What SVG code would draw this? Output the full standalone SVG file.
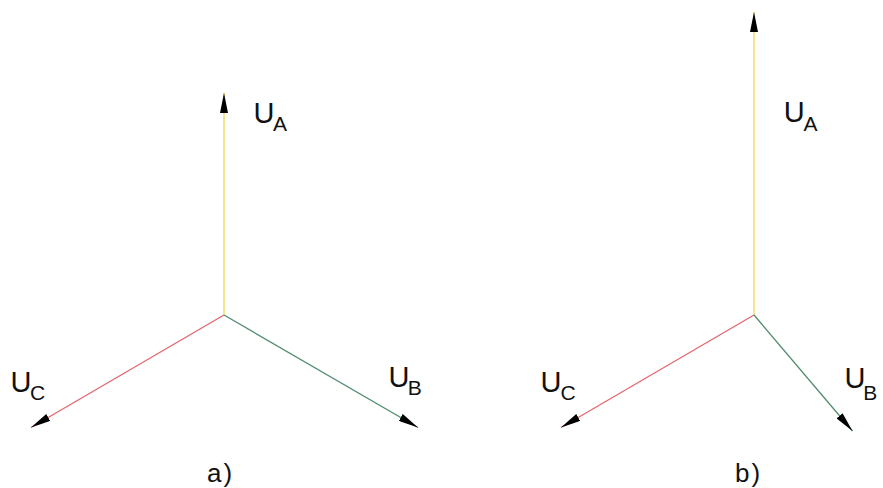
<svg xmlns="http://www.w3.org/2000/svg" width="883" height="488" viewBox="0 0 883 488">
  <style>
    text { font-family: "Liberation Sans", Arial, sans-serif; fill: #111; }
    .main { font-size: 29px; }
    .sub { font-size: 21px; }
    .cap { font-size: 26px; letter-spacing: 2px; }
    .vec { fill: none; stroke-width: 1.3; marker-end: url(#arrow); }
    .ya { stroke: #f3d64e; }
    .rc { stroke: #e4676c; }
    .gb { stroke: #4f8c6c; }
  </style>
  <defs>
    <marker id="arrow" viewBox="0 0 20 8" refX="20" refY="4" markerWidth="20" markerHeight="8" markerUnits="userSpaceOnUse" orient="auto">
      <path d="M0,0 L20,4 L0,8 Z" fill="#000"/>
    </marker>
  </defs>
  <rect width="883" height="488" fill="#fff"/>

  <g id="connectors">
    <line class="vec ya" x1="224" y1="315" x2="224" y2="93"/>
    <line class="vec rc" x1="224" y1="315" x2="31" y2="427.5"/>
    <line class="vec gb" x1="224" y1="315" x2="418" y2="427.5"/>
    <line class="vec ya" x1="754" y1="315" x2="754" y2="12"/>
    <line class="vec rc" x1="754" y1="315" x2="561" y2="427.5"/>
    <line class="vec gb" x1="754" y1="315" x2="852.5" y2="431"/>
  </g>

  <g id="a-UA"><text><tspan class="main" x="253.5" y="123.3">U</tspan><tspan class="sub" x="273" y="130.5">A</tspan></text></g>
  <g id="a-UC"><text><tspan class="main" x="10.4" y="392.3">U</tspan><tspan class="sub" x="30" y="400">C</tspan></text></g>
  <g id="a-UB"><text><tspan class="main" x="388.4" y="386.7">U</tspan><tspan class="sub" x="407.8" y="395">B</tspan></text></g>
  <g id="a-caption"><text class="cap" x="207" y="482">a)</text></g>

  <g id="b-UA"><text><tspan class="main" x="783.7" y="121.7">U</tspan><tspan class="sub" x="803.5" y="130.7">A</tspan></text></g>
  <g id="b-UC"><text><tspan class="main" x="540.4" y="391.7">U</tspan><tspan class="sub" x="560.5" y="400">C</tspan></text></g>
  <g id="b-UB"><text><tspan class="main" x="844.4" y="388.3">U</tspan><tspan class="sub" x="863.3" y="400">B</tspan></text></g>
  <g id="b-caption"><text class="cap" x="735" y="482">b)</text></g>
</svg>
